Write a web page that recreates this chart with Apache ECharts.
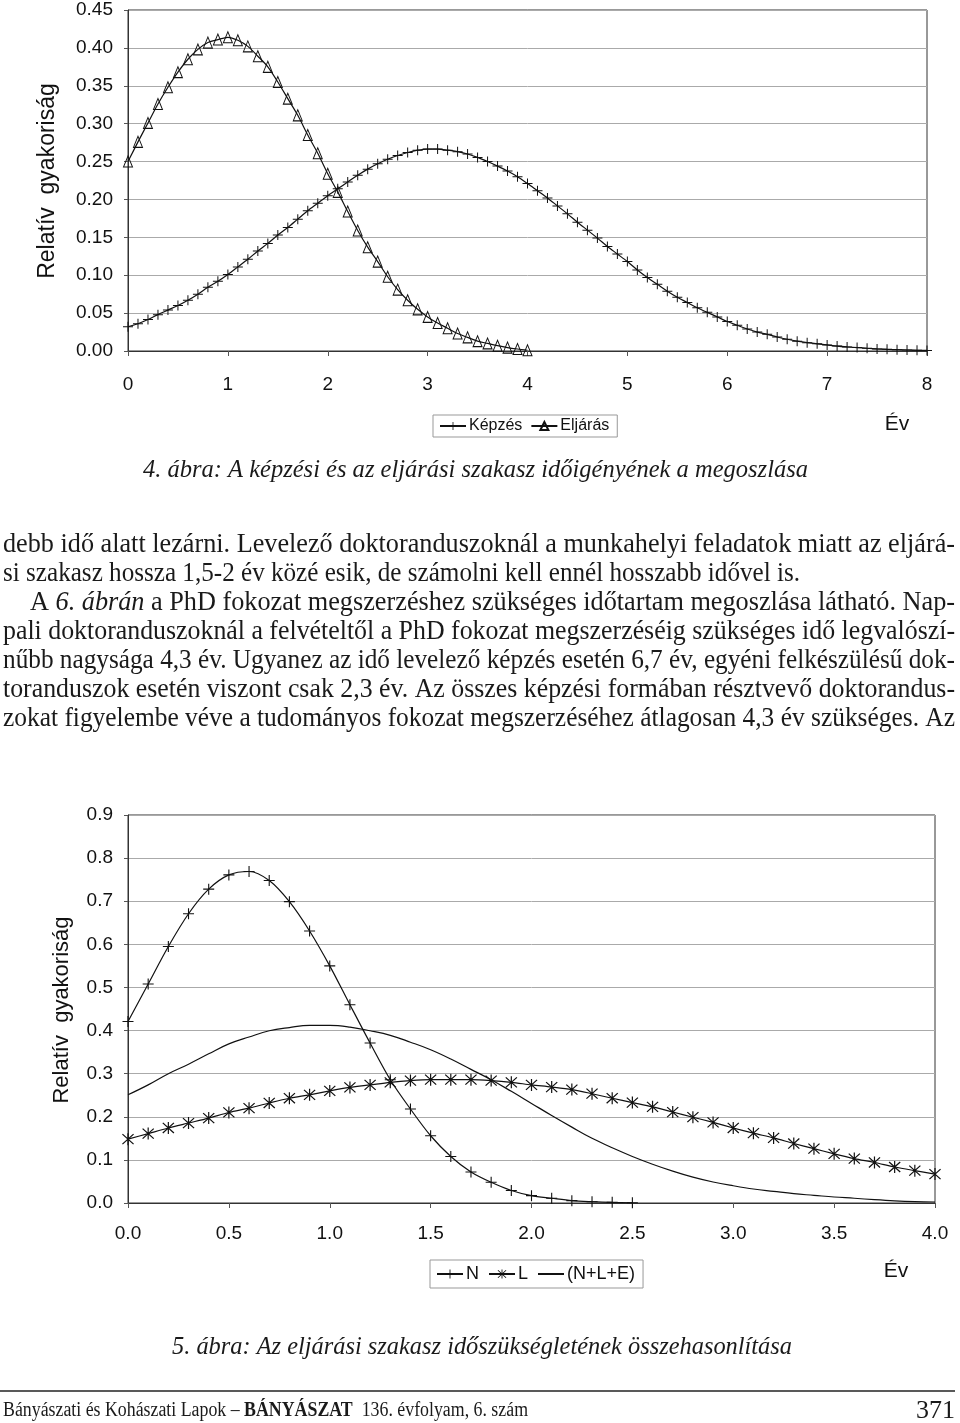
<!DOCTYPE html>
<html>
<head>
<meta charset="utf-8">
<script src="https://cdn.jsdelivr.net/npm/echarts@6/dist/echarts.min.js"></script>
<style>html,body{margin:0;padding:0;background:#fff}#c{width:960px;height:1423px}</style>
</head>
<body>
<div id="c"></div>
<script>
// ---------- DATA ----------
// Figure 4 (x in years, 0.1 step)
const years8 = [0,0.1,0.2,0.3,0.4,0.5,0.6,0.7,0.8,0.9,1,1.1,1.2,1.3,1.4,1.5,1.6,1.7,1.8,1.9,2,2.1,2.2,2.3,2.4,2.5,2.6,2.7,2.8,2.9,3,3.1,3.2,3.3,3.4,3.5,3.6,3.7,3.8,3.9,4,4.1,4.2,4.3,4.4,4.5,4.6,4.7,4.8,4.9,5,5.1,5.2,5.3,5.4,5.5,5.6,5.7,5.8,5.9,6,6.1,6.2,6.3,6.4,6.5,6.6,6.7,6.8,6.9,7,7.1,7.2,7.3,7.4,7.5,7.6,7.7,7.8,7.9,8];
const kepzes = [0.032,0.036,0.0415,0.048,0.054,0.060,0.067,0.075,0.084,0.092,0.101,0.111,0.121,0.132,0.142,0.153,0.163,0.174,0.185,0.195,0.205,0.214,0.223,0.232,0.240,0.247,0.253,0.258,0.262,0.265,0.2665,0.2665,0.265,0.263,0.260,0.2555,0.250,0.244,0.2375,0.230,0.221,0.2115,0.202,0.1915,0.181,0.170,0.1595,0.149,0.138,0.128,0.118,0.107,0.097,0.088,0.079,0.071,0.064,0.057,0.051,0.045,0.039,0.034,0.029,0.025,0.022,0.0185,0.0155,0.013,0.011,0.0095,0.008,0.0065,0.0054,0.0045,0.0036,0.0028,0.0022,0.0017,0.0013,0.001,0.0007];
const eljaras = [0.250,0.276,0.301,0.326,0.348,0.368,0.385,0.398,0.407,0.411,0.414,0.410,0.402,0.389,0.375,0.355,0.333,0.311,0.285,0.261,0.234,0.210,0.184,0.159,0.137,0.118,0.098,0.081,0.067,0.055,0.045,0.037,0.030,0.023,0.018,0.013,0.010,0.007,0.0045,0.0026,0.001];
// Figure 5
const seriesN = [0.421,0.508,0.595,0.671,0.728,0.761,0.769,0.748,0.699,0.631,0.550,0.460,0.371,0.286,0.218,0.156,0.108,0.072,0.048,0.029,0.017,0.011,0.0054,0.003,0.0015,0.0005];
const seriesL = [0.148,0.161,0.174,0.1855,0.197,0.210,0.220,0.232,0.243,0.251,0.260,0.268,0.274,0.280,0.284,0.286,0.286,0.286,0.284,0.280,0.274,0.269,0.263,0.2535,0.243,0.233,0.223,0.211,0.199,0.187,0.174,0.162,0.151,0.138,0.126,0.114,0.103,0.094,0.0835,0.075,0.067];
const seriesNLE = [0.251,0.274,0.300,0.322,0.346,0.369,0.385,0.3995,0.407,0.412,0.412,0.408,0.3995,0.389,0.373,0.3555,0.334,0.310,0.286,0.259,0.231,0.203,0.176,0.150,0.128,0.108,0.090,0.0740,0.060,0.0487,0.040,0.0325,0.027,0.0216,0.0178,0.0139,0.0110,0.0077,0.0050,0.0032,0.0023];

const legend1 = ['Képzés','Eljárás'];
const legend2 = ['N','L','(N+L+E)'];
const yName = 'Relatív  gyakoriság';
const xName = 'Év';
const caption1 = '4. ábra: A képzési és az eljárási szakasz időigényének a megoszlása';
const caption2 = '5. ábra: Az eljárási szakasz időszükségletének összehasonlítása';
const paragraph = [
  [['debb idő alatt lezárni. Levelező doktoranduszoknál a munkahelyi feladatok miatt az eljárá-','n']],
  [['si szakasz hossza 1,5-2 év közé esik, de számolni kell ennél hosszabb idővel is.','n']],
  [['A ','n'],['6. ábrán','i'],[' a PhD fokozat megszerzéshez szükséges időtartam megoszlása látható. Nap-','n']],
  [['pali doktoranduszoknál a felvételtől a PhD fokozat megszerzéséig szükséges idő legvalószí-','n']],
  [['nűbb nagysága 4,3 év. Ugyanez az idő levelező képzés esetén 6,7 év, egyéni felkészülésű dok-','n']],
  [['toranduszok esetén viszont csak 2,3 év. Az összes képzési formában résztvevő doktorandus-','n']],
  [['zokat figyelembe véve a tudományos fokozat megszerzéséhez átlagosan 4,3 év szükséges. Az','n']]
];
const footerParts = [['Bányászati és Kohászati Lapok – ','n'],['BÁNYÁSZAT','b'],['  136. évfolyam, 6. szám','n']];
const pageNo = '371';

// ---------- HELPERS ----------
const pairs = (xs, ys) => ys.map((v, i) => [xs[i], v]);
const years4 = years8.slice(0, 41);
const years25 = years8.slice(0, 26);

const SERIF = '"Liberation Serif", "Times New Roman", serif';
const SANS = '"Liberation Sans", Arial, sans-serif';
const cv = document.createElement('canvas').getContext('2d');
function fontOf(kind, size) {
  if (kind === 'i') return 'italic ' + size + 'px ' + SERIF;
  if (kind === 'b') return 'bold ' + size + 'px ' + SERIF;
  return size + 'px ' + SERIF;
}
function measure(parts, size) {
  let w = 0;
  parts.forEach(p => { cv.font = fontOf(p[1], size); w += cv.measureText(p[0]).width; });
  return w;
}
function richLine(parts) {
  return parts.map(p => p[1] === 'n' ? p[0].replace(/[{}|]/g,'') : '{' + p[1] + '|' + p[0] + '}').join('');
}
function fitText(parts, x0, x1, y, size, extra) {
  const w = measure(parts, size);
  return Object.assign({
    type: 'text', x: x0, y: y, scaleX: (x1 - x0) / w, silent: true,
    style: {
      text: richLine(parts), font: size + 'px ' + SERIF, fill: '#1a1a1a',
      verticalAlign: 'middle', align: 'left',
      rich: {
        n: { font: size + 'px ' + SERIF },
        i: { font: 'italic ' + size + 'px ' + SERIF },
        b: { font: 'bold ' + size + 'px ' + SERIF }
      }
    }
  }, extra || {});
}

const PLUS = 'path://M4.5,0H5.5V10H4.5Z M0,4.5H10V5.5H0Z';
const STAR = 'path://M4.55,0H5.45V10H4.55Z M0.5,1.15L1.15,0.5L9.5,8.85L8.85,9.5Z M8.85,0.5L9.5,1.15L1.15,9.5L0.5,8.85Z';

const axisLabelStyle = { color: '#111', fontSize: 19, fontFamily: SANS };
const lineStyle = { color: '#111', width: 1.2 };

// ---------- GRAPHICS (text) ----------
const graphics = [];
const paraX = [[3,955],[3,800],[30,955],[3,955],[3,955],[3,955],[3,955]];
paragraph.forEach((parts, i) => {
  graphics.push(fitText(parts, paraX[i][0], paraX[i][1], 545 + i * 29, 27));
});
graphics.push(fitText([[caption1,'i']], 143, 808, 470, 26));
graphics.push(fitText([[caption2,'i']], 172, 792, 1347, 26));
graphics.push(fitText(footerParts, 3, 528, 1411, 20));
graphics.push({ type: 'text', x: 955, y: 1411, silent: true,
  style: { text: pageNo, font: '26px ' + SERIF, fill: '#1a1a1a', align: 'right', verticalAlign: 'middle' } });
graphics.push({ type: 'line', silent: true, shape: { x1: 0, y1: 1391, x2: 955, y2: 1391 },
  style: { stroke: '#222', lineWidth: 1.5 } });
// axis titles
graphics.push({ type: 'text', x: 48, y: 181, rotation: Math.PI / 2, silent: true,
  style: { text: yName, font: '23px ' + SANS, fill: '#111', align: 'center', verticalAlign: 'middle' } });
graphics.push({ type: 'text', x: 62, y: 1010, rotation: Math.PI / 2, silent: true,
  style: { text: yName, font: '22px ' + SANS, fill: '#111', align: 'center', verticalAlign: 'middle' } });
graphics.push({ type: 'text', x: 897, y: 424, silent: true,
  style: { text: xName, font: '21px ' + SANS, fill: '#111', align: 'center', verticalAlign: 'middle' } });
graphics.push({ type: 'text', x: 896, y: 1271, silent: true,
  style: { text: xName, font: '21px ' + SANS, fill: '#111', align: 'center', verticalAlign: 'middle' } });

// ---------- CHART ----------
const chart = echarts.init(document.getElementById('c'), null, { renderer: 'canvas' });
const gridStyle = { show: true, borderColor: '#333', borderWidth: 1, backgroundColor: '#fff' };
const option = {
  animation: false,
  backgroundColor: '#fff',
  grid: [
    Object.assign({ left: 128, top: 10, width: 799, height: 341 }, gridStyle),
    Object.assign({ left: 128, top: 815, width: 807, height: 388 }, gridStyle)
  ],
  xAxis: [
    { gridIndex: 0, type: 'value', min: 0, max: 8, interval: 1,
      axisLine: { lineStyle: { color: '#333' } },
      axisTick: { show: true, length: 5, lineStyle: { color: '#555' } },
      splitLine: { show: false },
      axisLabel: Object.assign({ margin: 24 }, axisLabelStyle) },
    { gridIndex: 1, type: 'value', min: 0, max: 4, interval: 0.5,
      axisLine: { lineStyle: { color: '#333' } },
      axisTick: { show: true, length: 5, lineStyle: { color: '#555' } },
      splitLine: { show: false },
      axisLabel: Object.assign({ margin: 21, formatter: v => v.toFixed(1) }, axisLabelStyle) }
  ],
  yAxis: [
    { gridIndex: 0, type: 'value', min: 0, max: 0.45, interval: 0.05,
      axisLine: { show: true, lineStyle: { color: '#333' } },
      axisTick: { show: true, length: 4, lineStyle: { color: '#555' } },
      splitLine: { show: true, lineStyle: { color: '#aaa', width: 1 } },
      axisLabel: Object.assign({ margin: 15, formatter: v => v.toFixed(2) }, axisLabelStyle) },
    { gridIndex: 1, type: 'value', min: 0, max: 0.9, interval: 0.1,
      axisLine: { show: true, lineStyle: { color: '#333' } },
      axisTick: { show: true, length: 4, lineStyle: { color: '#555' } },
      splitLine: { show: true, lineStyle: { color: '#aaa', width: 1 } },
      axisLabel: Object.assign({ margin: 15, formatter: v => v.toFixed(1) }, axisLabelStyle) }
  ],
  legend: [
    { data: legend1, left: 433, top: 415, orient: 'horizontal', itemGap: 8, itemWidth: 26, itemHeight: 10,
      padding: [3, 8, 3, 6], borderColor: '#999', borderWidth: 1, borderRadius: 0,
      textStyle: { color: '#111', fontSize: 16, fontFamily: SANS, padding: [0, 0, 0, -2] }, selectedMode: false },
    { data: ['N', 'L', { name: '(N+L+E)', itemStyle: { color: 'rgba(0,0,0,0)', borderWidth: 0 } }],
      left: 430, top: 1260, orient: 'horizontal', itemGap: 9, itemWidth: 26, itemHeight: 11,
      padding: [5, 8, 5, 6], borderColor: '#999', borderWidth: 1, borderRadius: 0,
      textStyle: { color: '#111', fontSize: 18, fontFamily: SANS, padding: [0, 0, 0, -2] }, selectedMode: false }
  ],
  graphic: graphics,
  series: [
    { name: 'Képzés', type: 'line', xAxisIndex: 0, yAxisIndex: 0, smooth: 0.3,
      data: pairs(years8, kepzes), symbol: PLUS, symbolSize: 10, showAllSymbol: true,
      lineStyle: lineStyle, itemStyle: { color: '#111' } },
    { name: 'Eljárás', type: 'line', xAxisIndex: 0, yAxisIndex: 0, smooth: 0.3,
      data: pairs(years4, eljaras), symbol: 'triangle', symbolSize: [9, 11], showAllSymbol: true,
      lineStyle: lineStyle, itemStyle: { color: 'rgba(255,255,255,0)', borderColor: '#111', borderWidth: 1 } },
    { name: 'N', type: 'line', xAxisIndex: 1, yAxisIndex: 1, smooth: 0.3,
      data: pairs(years25, seriesN), symbol: PLUS, symbolSize: 11, showAllSymbol: true,
      lineStyle: lineStyle, itemStyle: { color: '#111' } },
    { name: 'L', type: 'line', xAxisIndex: 1, yAxisIndex: 1, smooth: 0.3,
      data: pairs(years4, seriesL), symbol: STAR, symbolSize: 12, showAllSymbol: true,
      lineStyle: lineStyle, itemStyle: { color: '#111' } },
    { name: '(N+L+E)', type: 'line', xAxisIndex: 1, yAxisIndex: 1, smooth: 0.4,
      data: pairs(years4, seriesNLE), symbol: 'none', showSymbol: false,
      lineStyle: lineStyle, itemStyle: { color: '#111' } }
  ]
};
chart.setOption(option);
</script>
</body>
</html>
